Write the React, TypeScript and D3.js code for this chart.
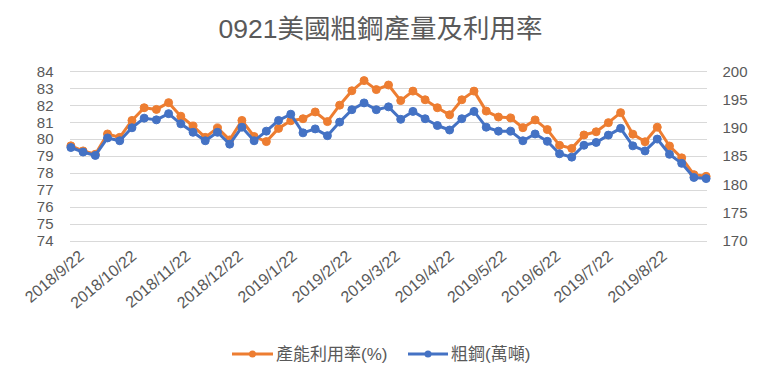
import React from "react";
import * as d3 from "d3";

const TITLE = "0921美國粗鋼產量及利用率";
const SERIES_UTIL = "產能利用率(%)";
const SERIES_STEEL = "粗鋼(萬噸)";

const dates = [
  "2018-09-22", "2018-09-29", "2018-10-06", "2018-10-13", "2018-10-20", "2018-10-27",
  "2018-11-03", "2018-11-10", "2018-11-17", "2018-11-24", "2018-12-01", "2018-12-08",
  "2018-12-15", "2018-12-22", "2018-12-29", "2019-01-05", "2019-01-12", "2019-01-19",
  "2019-01-26", "2019-02-02", "2019-02-09", "2019-02-16", "2019-02-23", "2019-03-02",
  "2019-03-09", "2019-03-16", "2019-03-23", "2019-03-30", "2019-04-06", "2019-04-13",
  "2019-04-20", "2019-04-27", "2019-05-04", "2019-05-11", "2019-05-18", "2019-05-25",
  "2019-06-01", "2019-06-08", "2019-06-15", "2019-06-22", "2019-06-29", "2019-07-06",
  "2019-07-13", "2019-07-20", "2019-07-27", "2019-08-03", "2019-08-10", "2019-08-17",
  "2019-08-24", "2019-08-31", "2019-09-07", "2019-09-14", "2019-09-21",
];

const utilization = [
  79.6, 79.3, 79.1, 80.3, 80.1, 81.1, 81.85, 81.75, 82.15, 81.35,
  80.77, 80.1, 80.66, 79.95, 81.1, 80.15, 79.85, 80.63, 81.08, 81.2,
  81.6, 81.03, 82.0, 82.85, 83.45, 82.92, 83.19, 82.27, 82.83, 82.32,
  81.85, 81.43, 82.32, 82.83, 81.65, 81.3, 81.25, 80.67, 81.13, 80.56,
  79.63, 79.45, 80.24, 80.43, 80.97, 81.56, 80.29, 79.84, 80.7, 79.59,
  78.89, 77.9, 77.8,
];

const steel = [
  186.5, 185.7, 185.1, 188.2, 187.7, 190.0, 191.7, 191.4, 192.5, 190.7,
  189.2, 187.7, 189.2, 187.1, 190.1, 187.7, 189.4, 191.3, 192.4, 189.1,
  189.8, 188.6, 191.0, 193.2, 194.4, 193.2, 193.7, 191.5, 192.9, 191.6,
  190.4, 189.6, 191.6, 192.9, 190.1, 189.4, 189.4, 187.7, 188.9, 187.6,
  185.4, 184.8, 186.9, 187.4, 188.7, 189.9, 186.8, 185.9, 188.0, 185.3,
  183.7, 181.2, 181.0,
];

const xTickLabels = [
  "2018/9/22", "2018/10/22", "2018/11/22", "2018/12/22", "2019/1/22", "2019/2/22",
  "2019/3/22", "2019/4/22", "2019/5/22", "2019/6/22", "2019/7/22", "2019/8/22",
];

const leftTicks = [74, 75, 76, 77, 78, 79, 80, 81, 82, 83, 84];
const rightTicks = [170, 175, 180, 185, 190, 195, 200];

const ORANGE = "#ED7D31";
const BLUE = "#4472C4";
const TEXT = "#595959";
const GRID = "#D9D9D9";
const NUM_FONT = "'Liberation Sans', Arial, sans-serif";
const CJK_FONT = "'Liberation Sans', 'Noto Sans CJK TC', sans-serif";

const W = 761;
const H = 379;
const plotLeft = 70;
const plotRight = 707;
const plotTop = 71.3;
const plotBottom = 240.7;

const parse = d3.timeParse("%Y-%m-%d");
const parseLabel = d3.timeParse("%Y/%m/%d");

export default function App() {
  const dayMs = 24 * 3600 * 1000;
  const d0 = parse(dates[0])!;
  const d1 = parse(dates[dates.length - 1])!;
  const x = d3
    .scaleTime()
    .domain([new Date(d0.getTime() - dayMs / 2), new Date(d1.getTime() + dayMs / 2)])
    .range([plotLeft, plotRight]);
  const yL = d3.scaleLinear().domain([74, 84]).range([plotBottom, plotTop]);
  const yR = d3.scaleLinear().domain([170, 200]).range([plotBottom, plotTop]);

  const utilPts = dates.map((d, i) => [x(parse(d)!), yL(utilization[i])] as [number, number]);
  const steelPts = dates.map((d, i) => [x(parse(d)!), yR(steel[i])] as [number, number]);
  const line = d3.line();

  const angle = -40;

  return (
    <svg
      width={W}
      height={H}
      style={{ position: "absolute", left: 0, top: 0, background: "#fff" }}
    >
      <rect x={0} y={0} width={W} height={H} fill="#fff" />
      <text
        x={380.5}
        y={37.5}
        textAnchor="middle"
        fontFamily={CJK_FONT}
        fontSize={26.5}
        fill={TEXT}
      >
        {TITLE}
      </text>

      {leftTicks.map((t) => (
        <line
          key={"g" + t}
          x1={plotLeft}
          x2={plotRight}
          y1={Math.round(yL(t)) + 0.5}
          y2={Math.round(yL(t)) + 0.5}
          stroke={GRID}
          strokeWidth={1}
        />
      ))}

      {leftTicks.map((t) => (
        <text
          key={"l" + t}
          x={53.5}
          y={yL(t)}
          dy="0.36em"
          textAnchor="end"
          fontFamily={NUM_FONT}
          fontSize={15}
          fill={TEXT}
        >
          {t}
        </text>
      ))}

      {rightTicks.map((t) => (
        <text
          key={"r" + t}
          x={722.5}
          y={yR(t)}
          dy="0.36em"
          textAnchor="start"
          fontFamily={NUM_FONT}
          fontSize={15}
          fill={TEXT}
        >
          {t}
        </text>
      ))}

      {xTickLabels.map((lab) => {
        const px = x(parseLabel(lab)!);
        return (
          <text
            key={lab}
            transform={`translate(${px + 7},${249}) rotate(${angle})`}
            dy="0.71em"
            textAnchor="end"
            fontFamily={NUM_FONT}
            fontSize={16}
            fill={TEXT}
          >
            {lab}
          </text>
        );
      })}

      <path d={line(utilPts)!} fill="none" stroke={ORANGE} strokeWidth={3} strokeLinejoin="round" />
      {utilPts.map((p, i) => (
        <circle key={"u" + i} cx={p[0]} cy={p[1]} r={4} fill={ORANGE} stroke={ORANGE} strokeWidth={1} />
      ))}

      <path d={line(steelPts)!} fill="none" stroke={BLUE} strokeWidth={3} strokeLinejoin="round" />
      {steelPts.map((p, i) => (
        <circle key={"s" + i} cx={p[0]} cy={p[1]} r={4} fill={BLUE} stroke={BLUE} strokeWidth={1} />
      ))}

      <g>
        <line x1={232} x2={273} y1={354} y2={354} stroke={ORANGE} strokeWidth={3} />
        <circle cx={252.5} cy={354} r={3.5} fill={ORANGE} />
        <text x={276} y={354} dy="0.36em" fontFamily={CJK_FONT} fontSize={17} fill={TEXT}>
          {SERIES_UTIL}
        </text>
        <line x1={408} x2={448} y1={354} y2={354} stroke={BLUE} strokeWidth={3} />
        <circle cx={428} cy={354} r={3.5} fill={BLUE} />
        <text x={451} y={354} dy="0.36em" fontFamily={CJK_FONT} fontSize={17} fill={TEXT}>
          {SERIES_STEEL}
        </text>
      </g>
    </svg>
  );
}
